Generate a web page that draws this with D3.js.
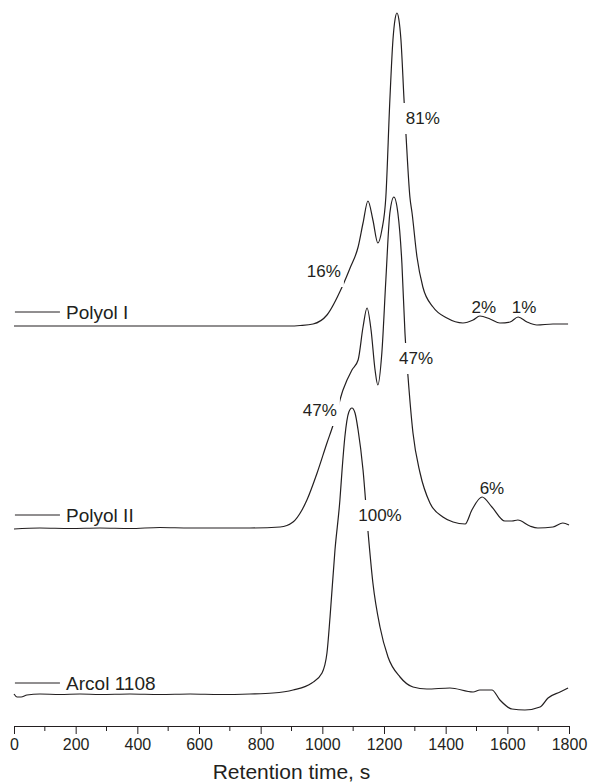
<!DOCTYPE html>
<html>
<head>
    <meta charset="utf-8">
    <title>Retention traces</title>
    <script src="https://d3js.org/d3.v7.min.js"></script>
    <style>
        body { margin: 0; background: #fff; }
        text { font-family: Arial, "Liberation Sans", sans-serif; fill: #231f20; }
    </style>
</head>
<body>
    <svg width="592" height="784"></svg>
    <script>
        // series names, baselines (arbitrary signal units) and legend levels
        const seriesNames = ["Polyol I", "Polyol II", "Arcol 1108"]
        const baselines = [400, 198, 32]
        const legendLevels = [414, 211, 43]

        // retention time (s) and detector signal above baseline
        const polyol1Time = [0, 279, 603, 895, 928, 970, 1015, 1064, 1090, 1116, 1132, 1148, 1164, 1180, 1193, 1206, 1219, 1229, 1236, 1242, 1248, 1255, 1265, 1271, 1284, 1291, 1307, 1326, 1359, 1404, 1456, 1489, 1511, 1544, 1576, 1609, 1635, 1664, 1696, 1748, 1797]
        const polyol1Signal = [0, 0, 0, 0, 0.5, 2, 11, 39, 58, 79, 103, 125, 106, 83, 96, 129, 226, 286, 307, 313, 307, 286, 226, 193, 129, 113, 69, 39, 19, 8, 3, 6, 10, 7, 3, 4, 9, 4, 1, 2, 2]

        const polyol2Time = [0, 84, 182, 279, 376, 473, 571, 668, 765, 863, 905, 934, 950, 983, 1015, 1035, 1067, 1096, 1116, 1132, 1145, 1158, 1171, 1180, 1193, 1206, 1219, 1232, 1245, 1258, 1268, 1278, 1294, 1317, 1349, 1391, 1424, 1463, 1485, 1518, 1550, 1592, 1615, 1634, 1673, 1699, 1748, 1780, 1800]
        const polyol2Signal = [-1, 0, -0.5, 0, -0.5, 0.5, 0, 0, 0, 1, 6, 18, 28, 55, 85, 103, 138, 158, 168, 201, 220, 198, 158, 143, 175, 248, 315, 331, 315, 265, 195, 151, 95, 55, 25, 11, 6, 4, 18, 31, 21, 7, 7, 8, 2, 0, 1, 5, 3]

        const arcolTime = [0, 10, 23, 42, 84, 149, 214, 279, 376, 473, 571, 668, 765, 840, 905, 966, 999, 1015, 1025, 1041, 1057, 1064, 1073, 1086, 1096, 1106, 1116, 1132, 1148, 1164, 1187, 1213, 1252, 1294, 1339, 1414, 1489, 1511, 1550, 1576, 1615, 1657, 1706, 1732, 1771, 1797]
        const arcolSignal = [0, -3, -3, -1, 0, -0.5, 0, -0.5, 0, -0.5, 0, -0.5, 0, 1, 4, 11, 21, 41, 77, 144, 194, 224, 257, 282, 286, 281, 264, 224, 163, 111, 67, 37, 17, 7, 5, 6, 2, 4, 4, -6, -15, -16, -13, -4, 2, 6]

        // peak share labels: text, time, level
        const peakLabels = ["81%", "16%", "2%", "1%", "47%", "47%", "6%", "100%"]
        const peakLabelTime = [1326, 1005, 1524, 1654, 1304, 992, 1550, 1187]
        const peakLabelLevel = [608, 455, 419, 419, 368, 316, 238, 211]
        const cutLabels = ["81%", "16%", "47%", "100%"] // these sit on a trace and break it

        const xTicks = [0, 200, 400, 600, 800, 1000, 1200, 1400, 1600, 1800]
        const xMinorTicks = [100, 300, 500, 700, 900, 1100, 1300, 1500, 1700]

        const svg = d3.select("svg")
        const ink = "#231f20"

        const xScale = d3.scaleLinear().domain([0, 1800]).range([14, 569])
        const yScale = d3.scaleLinear().domain([0, 720]).range([726, 6])

        const traces = [
            d3.zip(polyol1Time, polyol1Signal),
            d3.zip(polyol2Time, polyol2Signal),
            d3.zip(arcolTime, arcolSignal)
        ]

        const line = d3.line().curve(d3.curveMonotoneX)

        traces.forEach((tr, i) => {
            svg.append("path")
                .attr("d", line(tr.map(d => [xScale(d[0]), yScale(d[1] + baselines[i])])))
                .attr("fill", "none")
                .attr("stroke", ink)
                .attr("stroke-width", 1.2)
        })

        // legend
        seriesNames.forEach((name, i) => {
            const y = yScale(legendLevels[i])
            svg.append("line")
                .attr("x1", xScale(3)).attr("x2", xScale(149))
                .attr("y1", y).attr("y2", y)
                .attr("stroke", ink).attr("stroke-width", 1)
            svg.append("text")
                .attr("x", xScale(169))
                .attr("y", y + 7)
                .attr("font-size", 19)
                .text(name)
        })

        // peak labels, white box behind those that cut a line
        peakLabels.forEach((lab, i) => {
            const g = svg.append("g")
            const t = g.append("text")
                .attr("x", xScale(peakLabelTime[i]))
                .attr("y", yScale(peakLabelLevel[i]) + 6)
                .attr("text-anchor", "middle")
                .attr("font-size", 17)
                .text(lab)
            if (cutLabels.includes(lab)) {
                const bb = t.node().getBBox()
                g.insert("rect", "text")
                    .attr("x", bb.x - 3).attr("y", bb.y - 6)
                    .attr("width", bb.width + 6).attr("height", bb.height + 12)
                    .attr("fill", "#fff")
            }
        })

        // x axis
        const xAxis = d3.axisBottom(xScale)
            .tickValues(xTicks)
            .tickFormat(d3.format("d"))
            .tickSize(8)
            .tickSizeOuter(0)
            .tickPadding(5)
        const gx = svg.append("g").attr("transform", `translate(0,${yScale(0)})`).call(xAxis)
        gx.selectAll("text").attr("font-size", 16).style("font-family", "Arial, 'Liberation Sans', sans-serif").attr("fill", ink)
        gx.selectAll("line").attr("stroke", ink)
        gx.select(".domain").attr("stroke", ink).attr("stroke-width", 1.2)

        gx.selectAll(".minor")
            .data(xMinorTicks)
            .enter()
            .append("line")
            .attr("x1", d => xScale(d)).attr("x2", d => xScale(d))
            .attr("y1", 0).attr("y2", 5)
            .attr("stroke", ink)

        svg.append("text")
            .attr("x", (xScale(0) + xScale(1800)) / 2)
            .attr("y", 779)
            .attr("text-anchor", "middle")
            .attr("font-size", 21)
            .text("Retention time, s")
    </script>
</body>
</html>
